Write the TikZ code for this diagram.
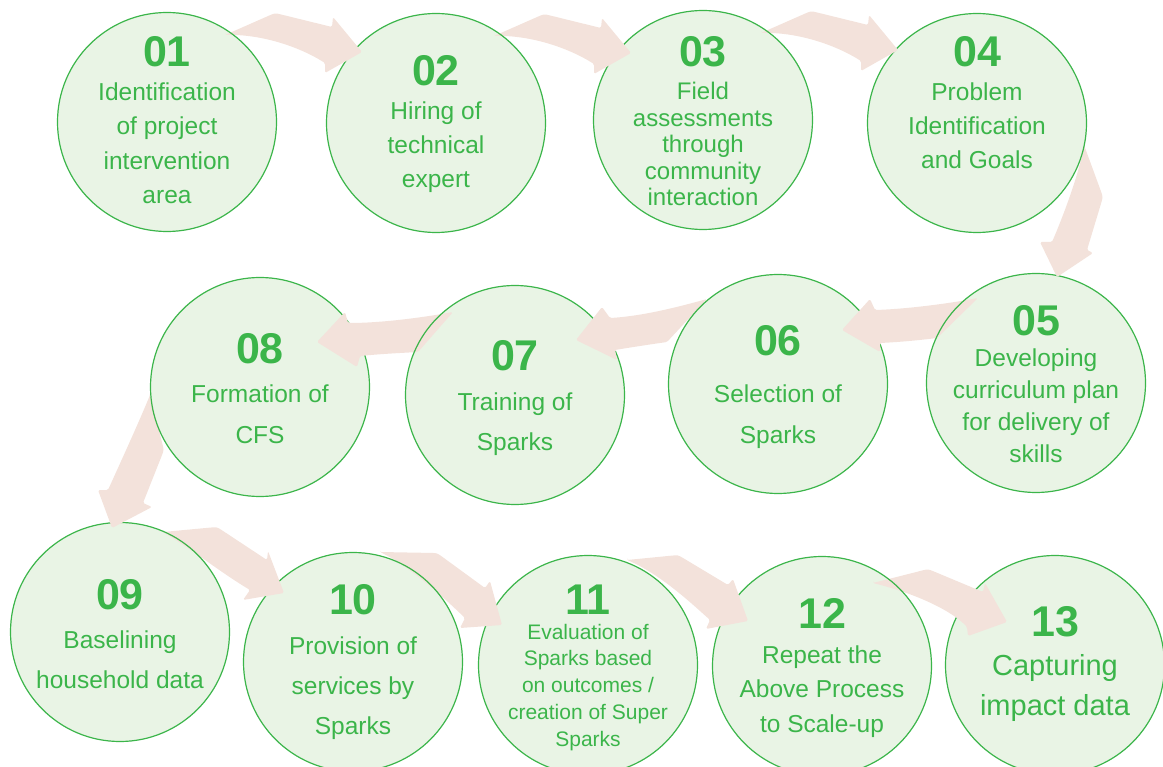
\documentclass[tikz,border=0pt]{standalone}
\usepackage{fontspec}
\setmainfont{Liberation Sans}
\definecolor{sgreen}{RGB}{59,181,74}
\definecolor{bubblefill}{RGB}{233,244,229}
\definecolor{flowpink}{RGB}{243,226,219}
\tikzset{
  bubble/.style={circle, fill=bubblefill, draw=none, minimum size=219pt, inner sep=0pt},
  ring/.style={draw=sgreen, line width=1.2pt},
  flow/.style={fill=flowpink, rounded corners=1.5pt},
  num/.style={font=\fontsize{43}{43}\selectfont\bfseries, text=sgreen, anchor=base, inner sep=0pt},
  body/.style={font=\fontsize{24.5}{24.5}\selectfont, text=sgreen, anchor=base, inner sep=0pt}
}
\newcommand\toparrow[1]{%
  \fill[flow, shift={(#1.center)}] (58,-87) -- (100.7,-105.8) .. controls (108,-109) .. (115.8,-107.1)
    -- (165,-95) -- (166,-105) -- (195,-70) -- (158,-49) -- (158,-59)
    .. controls (131,-76) and (93,-88) .. cycle;}
\newcommand\ringof[1]{\draw[ring] (#1.center) circle[radius=109.5pt];}
\newcommand\bubbletext[6]{%
  \foreach \t [count=\k] in {#6}
    \node[body, font=\fontsize{#5}{#5}\selectfont] (#1-\k) at (#2, {#3+(\k-1)*#4}) {\t};}
\begin{document}
\begin{tikzpicture}[x=1pt,y=-1pt]
\useasboundingbox (0,0) rectangle (1163,767);
% circle fills
\node[bubble] (c1) at (167,122) {};
\node[bubble] (c2) at (436,123) {};
\node[bubble] (c3) at (703,120) {};
\node[bubble] (c4) at (977,123) {};
\node[bubble] (c5) at (1036,383) {};
\node[bubble] (c6) at (778,384) {};
\node[bubble] (c7) at (515,395) {};
\node[bubble] (c8) at (260,387) {};
\node[bubble] (c9) at (120,632) {};
\node[bubble] (c10) at (353,662) {};
\node[bubble] (c11) at (588,665) {};
\node[bubble] (c12) at (822,666) {};
\node[bubble] (c13) at (1055,665) {};
% outlines and block arrows, from the last step back to the first
\ringof{c13}
\fill[flow, shift={(c12.center)}] (51,-83) -- (98.2,-95) .. controls (106,-97) .. (113.4,-93.9)
  -- (161,-74) -- (163,-83) -- (185,-44) -- (146,-30) -- (145,-39)
  .. controls (130,-55) and (95,-72) .. cycle;
\ringof{c12}
\fill[flow, shift={(c11.center)}] (39,-105) -- (82,-109.2) .. controls (90,-110) .. (96.9,-105.9)
  -- (140,-80) -- (145,-86) -- (160,-44) -- (118,-36) -- (122,-45)
  .. controls (100,-65) and (70,-92) .. cycle;
\ringof{c11}
\fill[flow, shift={(c10.center)}] (27,-110) -- (76,-109.1) .. controls (84,-109) .. (90.5,-104.3)
  -- (132,-74) -- (137,-81) -- (149,-37) -- (107,-34) -- (112,-44)
  .. controls (90,-65) and (58,-95) .. cycle;
\ringof{c10}
\fill[flow, shift={(c9.center)}] (43,-100) -- (89,-104.3) .. controls (97,-105) .. (103.7,-100.6)
  -- (147,-72) -- (148,-81) -- (164,-39) -- (123,-32) -- (130,-42)
  .. controls (100,-60) and (70,-84) .. cycle;
\ringof{c9}
\fill[flow, shift={(c8.center)}] (-110,8) -- (-98,55.3) .. controls (-96,63) .. (-98.9,70.4)
  -- (-117,116) -- (-108,120) -- (-148,141) -- (-162,103) -- (-152,103)
  .. controls (-138,72) and (-121,35) .. cycle;
\ringof{c8}
\fill[flow, shift={(c7.center)}] (-62,-83) .. controls (-95,-77) and (-135,-72) .. (-167,-72)
  -- (-170,-83) -- (-198,-53) -- (-158,-28) -- (-155,-39)
  .. controls (-135,-41) and (-115,-42) .. (-97,-43) -- cycle;
\ringof{c7}
\fill[flow, shift={(c6.center)}] (-71,-85) .. controls (-100,-77) and (-135,-68) .. (-168,-66)
  -- (-176,-77) -- (-202,-44) -- (-161,-24) -- (-163,-34)
  .. controls (-145,-37) and (-125,-40) .. (-111,-42) -- cycle;
\ringof{c6}
\fill[flow, shift={(c5.center)}] (-58,-85) .. controls (-90,-79) and (-130,-74) .. (-161,-73)
  -- (-166,-84) -- (-194,-53) -- (-156,-31) -- (-156,-40)
  .. controls (-135,-41) and (-115,-43) .. (-99,-45) -- cycle;
\ringof{c5}
\fill[flow, shift={(c4.center)}] (107,22) -- (123.3,66.5) .. controls (126,74) .. (123.7,81.7)
  -- (110,127) -- (116,130) -- (80,154) -- (63,119) -- (75,119)
  .. controls (88,89) and (103,47) .. cycle;
\ringof{c4}
\toparrow{c3}
\ringof{c3}
\toparrow{c2}
\ringof{c2}
\toparrow{c1}
\ringof{c1}
% numbers
\node[num] (n1) at (167,66.5) {01};
\node[num] (n2) at (436,86) {02};
\node[num] (n3) at (703,67) {03};
\node[num] (n4) at (977,67) {04};
\node[num] (n5) at (1036,336) {05};
\node[num] (n6) at (778,356) {06};
\node[num] (n7) at (515,371) {07};
\node[num] (n8) at (260,364) {08};
\node[num] (n9) at (120,609) {09};
\node[num] (n10) at (353,614) {10};
\node[num] (n11) at (588,614) {11};
\node[num] (n12) at (822,628) {12};
\node[num] (n13) at (1055,636) {13};
% texts
\bubbletext{t1}{167}{100.5}{34.5}{24.5}{Identification,of project,intervention,area}
\bubbletext{t2}{436}{120}{34}{24.5}{Hiring of,technical,expert}
\bubbletext{t3}{703}{100}{26.5}{24}{Field,assessments,through,community,interaction}
\bubbletext{t4}{977}{101}{34}{24.5}{Problem,Identification,and Goals}
\bubbletext{t5}{1036}{367}{31.7}{24.5}{Developing,curriculum plan,for delivery of,skills}
\bubbletext{t6}{778}{403}{40}{24.5}{Selection of,Sparks}
\bubbletext{t7}{515}{410}{40}{24.5}{Training of,Sparks}
\bubbletext{t8}{260}{403}{40}{24.5}{Formation of,CFS}
\bubbletext{t9}{120}{648}{40}{24.5}{Baselining,household data}
\bubbletext{t10}{353}{654}{40}{24.5}{Provision of,services by,Sparks}
\bubbletext{t11}{588}{639}{26.8}{21}{Evaluation of,Sparks based,on outcomes /,creation of Super,Sparks}
\bubbletext{t12}{822}{663}{34.5}{24.5}{Repeat the,Above Process,to Scale-up}
\bubbletext{t13}{1055}{675}{40}{29}{Capturing,impact data}
\end{tikzpicture}
\end{document}
